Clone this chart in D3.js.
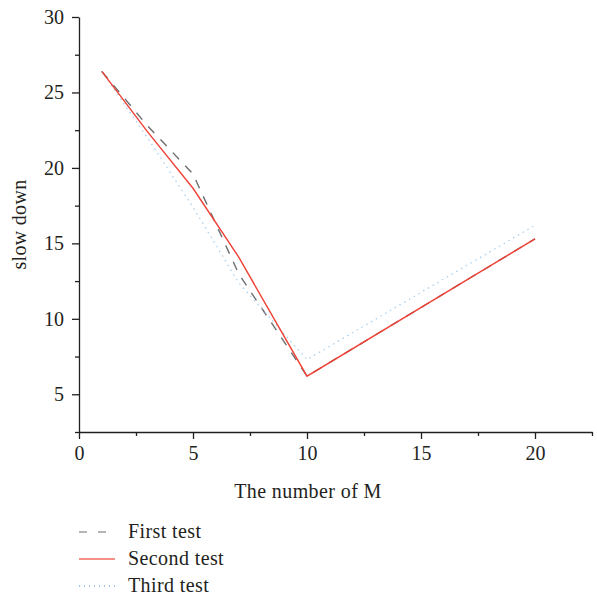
<!DOCTYPE html>
<html>
<head>
<meta charset="utf-8">
<script src="https://cdn.jsdelivr.net/npm/d3@7"></script>
<style>
  body { margin: 0; background: #fff; }
  svg text { font-family: "Liberation Serif", "DejaVu Serif", serif; fill: #231f20; }
</style>
</head>
<body>
<svg id="chart" width="597" height="599"></svg>
<script>
let xValues = [1, 3, 5, 7, 10, 20];
let firstTest = [26.4, 22.8, 19.6, 13.0, 6.2, 15.3];
let secondTest = [26.4, 22.4, 18.65, 14.1, 6.2, 15.3];
let thirdTest = [26.4, 22.0, 17.4, 12.4, 7.3, 16.2];
let seriesNames = ["First test", "Second test", "Third test"];
let xTicks = [0, 5, 10, 15, 20];
let yTicks = [5, 10, 15, 20, 25, 30];

let margin = {left: 79, top: 17, right: 5, bottom: 167};
let width = 597, height = 599;

let svg = d3.select("#chart");

let x = d3.scaleLinear().domain([0, 22.5]).range([margin.left, width - margin.right]);
let y = d3.scaleLinear().domain([2.5, 30]).range([height - margin.bottom, margin.top]);

let minorX = d3.range(2.5, 22.6, 5);
let minorY = d3.range(2.5, 30, 5);

// minor ticks first
svg.append("g")
    .attr("transform", "translate(0," + y.range()[0] + ")")
    .call(d3.axisBottom(x).tickValues(minorX).tickSize(4).tickSizeOuter(0).tickFormat(""))
    .call(g => g.select(".domain").remove());
svg.append("g")
    .attr("transform", "translate(" + x.range()[0] + ",0)")
    .call(d3.axisLeft(y).tickValues(minorY).tickSize(4).tickSizeOuter(0).tickFormat(""))
    .call(g => g.select(".domain").remove());

let xAxis = svg.append("g")
    .attr("transform", "translate(0," + y.range()[0] + ")")
    .call(d3.axisBottom(x).tickValues(xTicks).tickSize(7).tickSizeOuter(0).tickPadding(7));
let yAxis = svg.append("g")
    .attr("transform", "translate(" + x.range()[0] + ",0)")
    .call(d3.axisLeft(y).tickValues(yTicks).tickSize(7).tickSizeOuter(0).tickPadding(8));

svg.selectAll(".domain, .tick line").attr("stroke", "#231f20").attr("stroke-width", 1.3);
xAxis.selectAll("text").style("font-size", "20px").style("font-family", "Liberation Serif");
yAxis.selectAll("text").style("font-size", "20px").style("font-family", "Liberation Serif");

svg.append("text")
    .attr("x", 308)
    .attr("y", 498)
    .attr("text-anchor", "middle")
    .style("font-size", "20px")
    .style("letter-spacing", "0.4px")
    .text("The number of M");

svg.append("text")
    .attr("transform", "translate(26," + (y.range()[0] + y.range()[1]) / 2 + ") rotate(-90)")
    .attr("text-anchor", "middle")
    .style("font-size", "20px")
    .style("letter-spacing", "0.3px")
    .text("slow down");

let line = d3.line()
    .x((d, i) => x(xValues[i]))
    .y(d => y(d));

let styles = [
    {data: firstTest, color: "#6d6e71", dash: "9,9", width: 1.4},
    {data: thirdTest, color: "#a9d1f0", dash: "1.5,4", width: 1.3},
    {data: secondTest, color: "#ef4136", dash: null, width: 1.4}
];

styles.forEach(s => {
    svg.append("path")
        .attr("d", line(s.data))
        .attr("fill", "none")
        .attr("stroke", s.color)
        .attr("stroke-width", s.width)
        .attr("stroke-dasharray", s.dash);
});

let legendStyles = [
    {color: "#6d6e71", dash: "8,11", width: 1.2},
    {color: "#f26b61", dash: null, width: 1.6},
    {color: "#4a84cf", dash: "1,4", width: 1.2}
];
let legend = svg.selectAll(".legend")
    .data(seriesNames)
    .enter()
    .append("g")
    .attr("transform", (d, i) => "translate(79," + (532 + i * 27) + ")");
legend.append("line")
    .attr("x1", 0).attr("x2", 36)
    .attr("stroke", (d, i) => legendStyles[i].color)
    .attr("stroke-width", (d, i) => legendStyles[i].width)
    .attr("stroke-dasharray", (d, i) => legendStyles[i].dash);
legend.append("text")
    .attr("x", 49)
    .attr("y", 6)
    .style("font-size", "20px")
    .style("letter-spacing", "0.4px")
    .text(d => d);
</script>
</body>
</html>
